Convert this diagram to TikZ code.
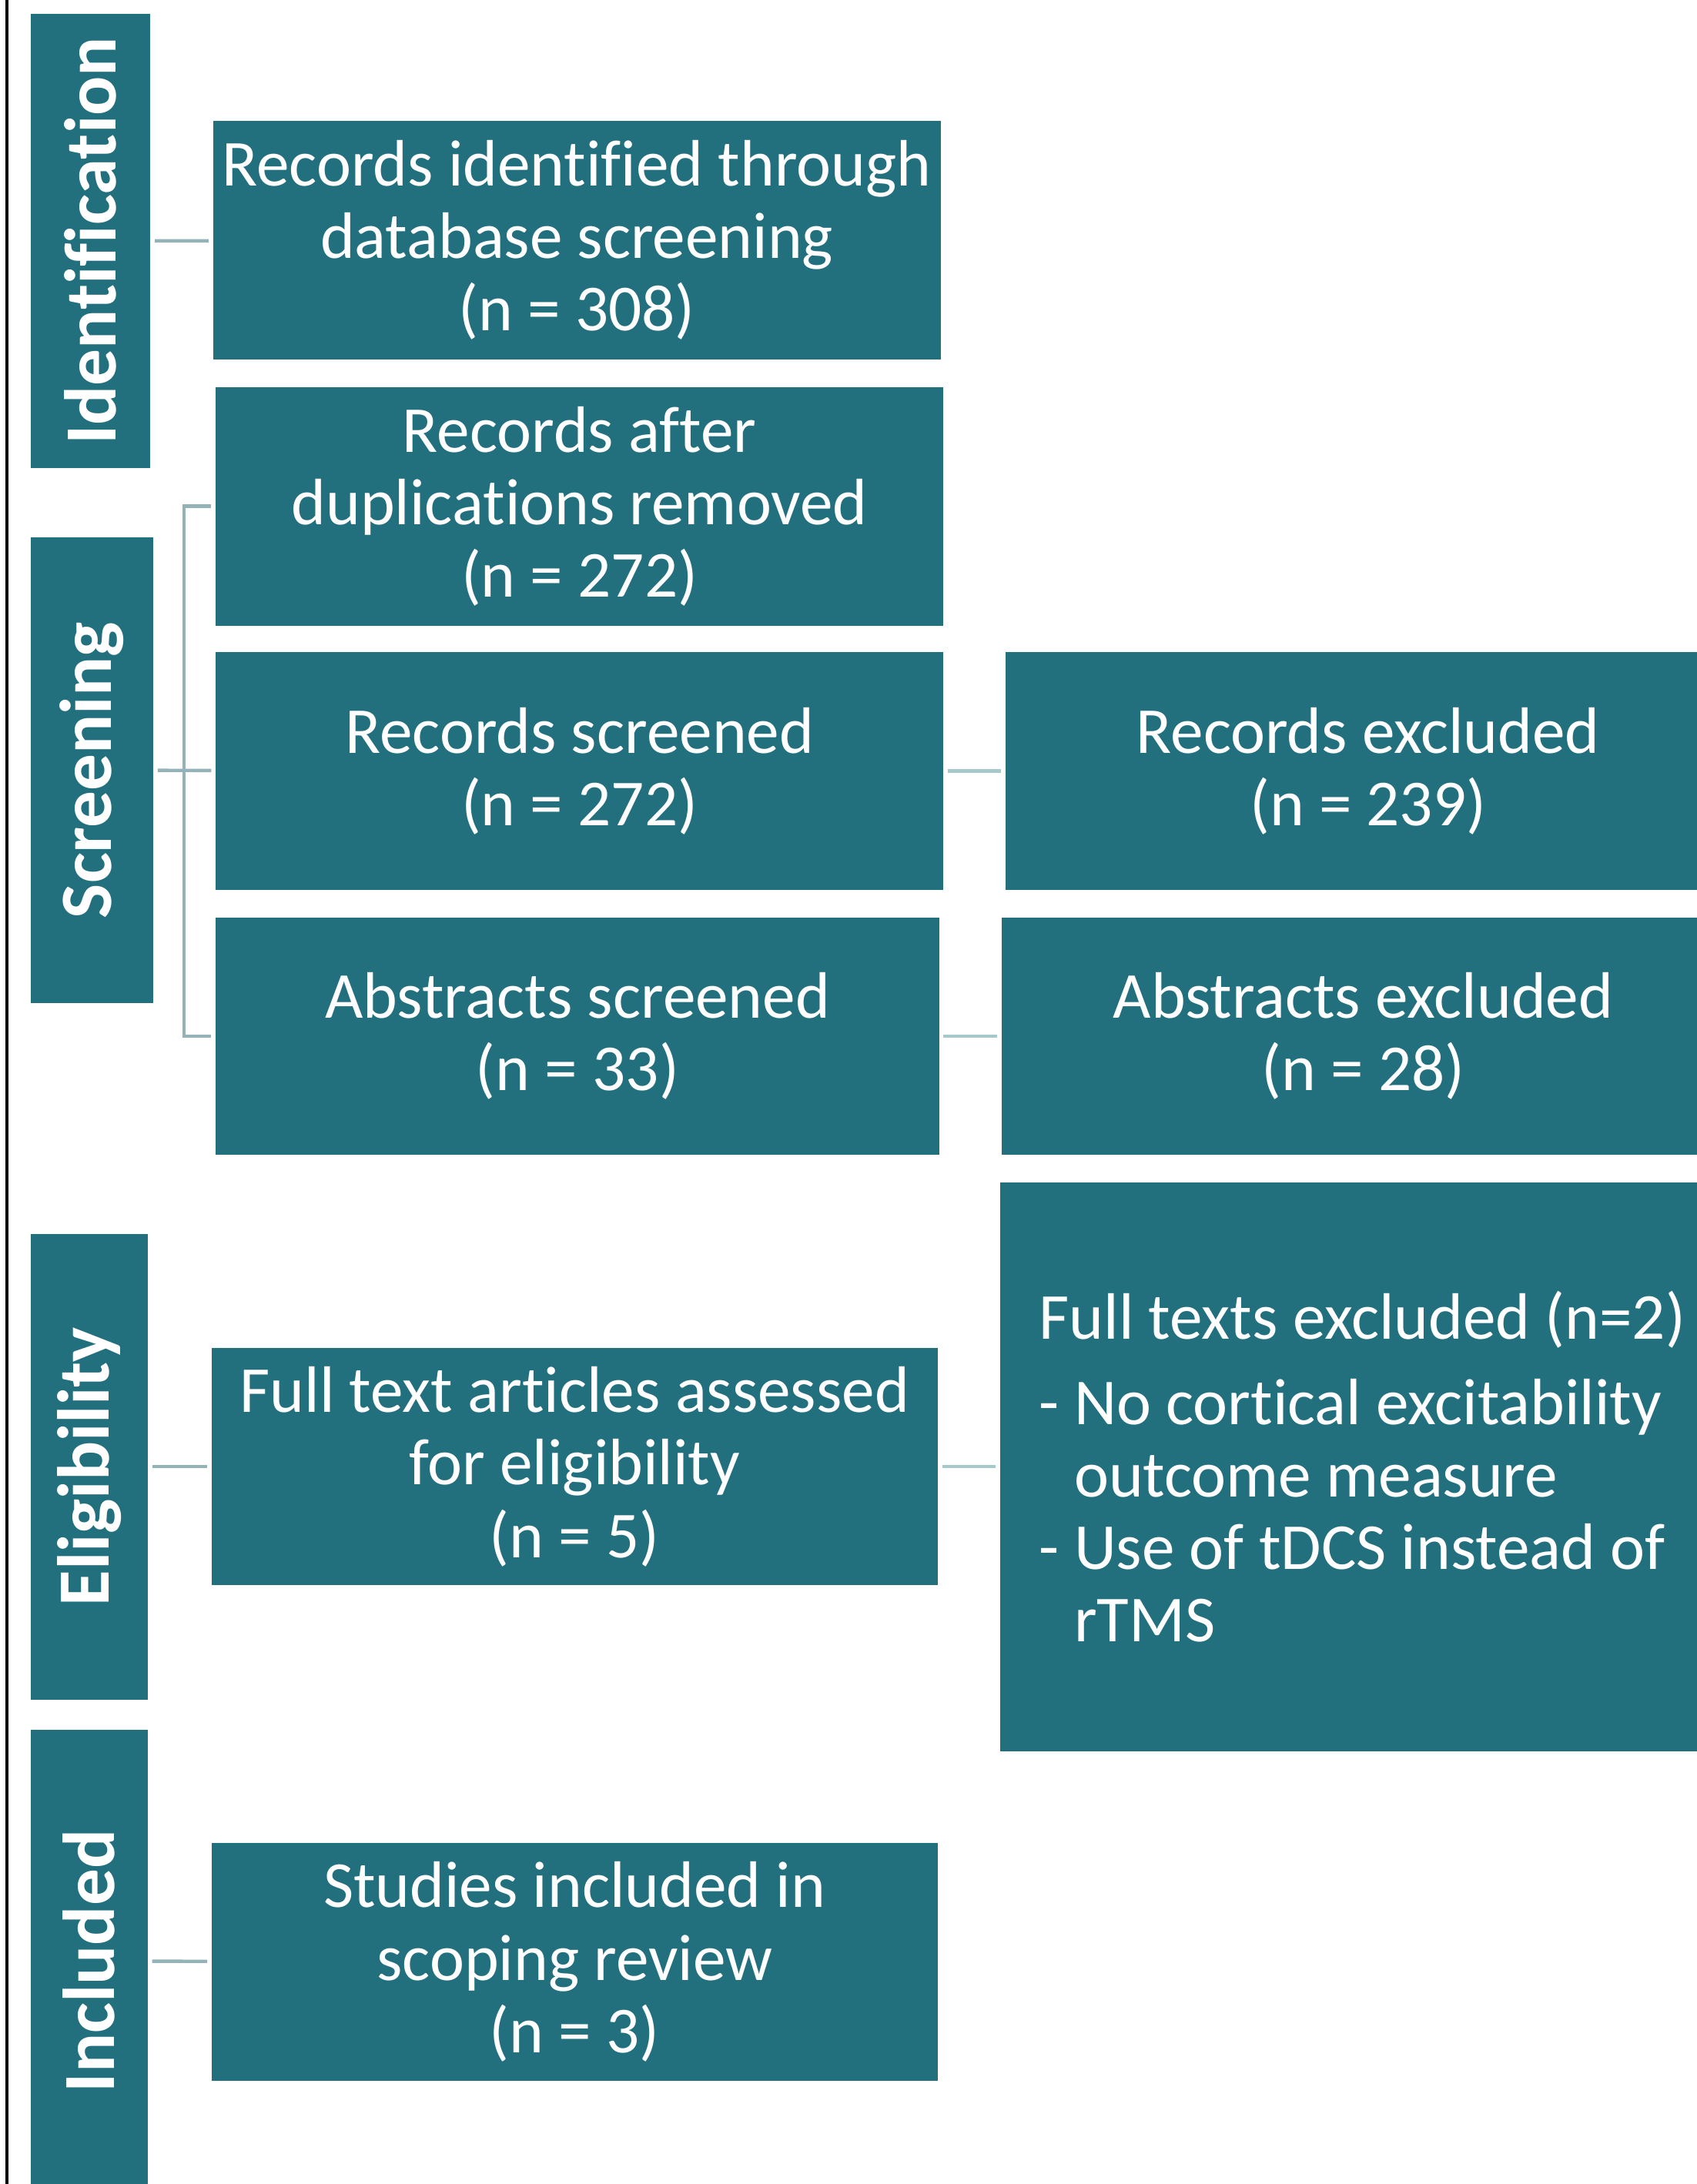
\documentclass[tikz,border=0pt]{standalone}
\usepackage{fontspec}
\setmainfont{Carlito}[Ligatures={NoCommon}]
\usepackage{graphicx}

\definecolor{boxteal}{HTML}{226F7E}
\definecolor{linkgrey}{HTML}{93B3B8}
\definecolor{linklight}{HTML}{A8C9CC}

\tikzset{
  phase/.style={rectangle, fill=boxteal, text=white, inner sep=0pt,
    font=\fontsize{15}{18}\selectfont\bfseries},
  stage/.style={rectangle, fill=boxteal, text=white, inner sep=0pt, align=center,
    font=\fontsize{13.4}{14.8}\selectfont},
  link/.style={draw=linkgrey, line width=0.7pt, shorten <=0.7pt, shorten >=0.7pt},
  linkright/.style={link, draw=linklight},
}

\begin{document}
\begin{tikzpicture}[x=0.01cm, y=-0.01cm]
        \useasboundingbox (0,0) rectangle (1218,1568);
        \draw[line width=0.6pt] (5,0) -- (5,1568);

        % phases
        \node[phase, minimum width=0.86cm, minimum height=3.26cm] (ident) at (65,173) {\rotatebox{90}{Identification}};
        \node[phase, minimum width=0.88cm, minimum height=3.34cm] (screen) at (66,553) {\rotatebox{90}{Screening}};
        \node[phase, minimum width=0.84cm, minimum height=3.34cm] (elig) at (64,1053) {\rotatebox{90}{Eligibility}};
        \node[phase, minimum width=0.84cm, minimum height=3.32cm] (incl) at (64,1408) {\rotatebox{90}{Included}};

        % main column
        \node[stage, minimum width=5.22cm, minimum height=1.71cm] (found) at (414,172.5) {Records identified through\\database screening\\(n = 308)};
        \node[stage, minimum width=5.22cm, minimum height=1.71cm] (dedup) at (416,363.5) {Records after\\duplications removed\\(n = 272)};
        \node[stage, minimum width=5.22cm, minimum height=1.71cm] (recscr) at (416,553.5) {Records screened\\(n = 272)};
        \node[stage, minimum width=5.19cm, minimum height=1.70cm] (absscr) at (414.5,744) {Abstracts screened\\(n = 33)};
        \node[stage, minimum width=5.21cm, minimum height=1.70cm] (fulltxt) at (412.5,1053) {Full text articles assessed\\for eligibility\\(n = 5)};
        \node[stage, minimum width=5.21cm, minimum height=1.71cm] (studies) at (412.5,1408.5) {Studies included in\\scoping review\\(n = 3)};

        % exclusions (cut off by the right edge)
        \node[stage, minimum width=5.20cm, minimum height=1.71cm] (recexc) at (982,553.5) {Records excluded\\(n = 239)};
        \node[stage, minimum width=5.19cm, minimum height=1.70cm] (absexc) at (978.5,744) {Abstracts excluded\\(n = 28)};
        \node[stage, align=left, minimum width=5.20cm, minimum height=4.08cm] (fullexc) at (978,1053) {Full texts excluded (n=2)\\[0.09cm]- No cortical excitability\\\phantom{- }outcome measure\\- Use of tDCS instead of\\\phantom{- }rTMS};

        \path[link] (ident) edge (found);
        \path[link] (screen) edge (recscr);
        \draw[link] (dedup.west) -- ++(-22,0) |- (absscr.west);
        \path[link] (elig) edge (fulltxt);
        \path[link] (incl) edge (studies);
        \path[linkright] (recscr) edge (recexc);
        \path[linkright] (absscr) edge (absexc);
        \path[linkright] (fulltxt) edge (fullexc);
    \end{tikzpicture}
\end{document}
